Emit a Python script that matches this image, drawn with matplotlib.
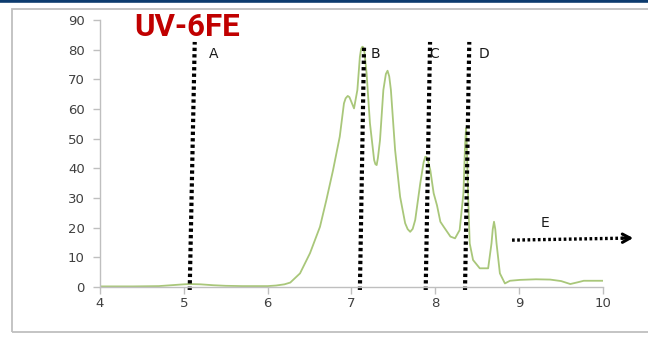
import matplotlib
matplotlib.use("Agg")
import matplotlib.pyplot as plt
from matplotlib.patches import Rectangle
from matplotlib.lines import Line2D

# ---- data ----
time_x = [4.00, 4.40, 4.70, 4.85, 5.00, 5.07, 5.20, 5.35, 5.50, 5.70, 6.00, 6.10, 6.20,
          6.27, 6.386, 6.505, 6.624, 6.70, 6.78, 6.86, 6.91, 6.93, 6.955, 6.975, 6.99,
          7.03, 7.07, 7.10, 7.115, 7.13, 7.14, 7.155, 7.18, 7.22, 7.27, 7.285, 7.30,
          7.315, 7.34, 7.38, 7.41, 7.43, 7.45, 7.47, 7.52, 7.58, 7.64, 7.67, 7.70, 7.73,
          7.76, 7.82, 7.86, 7.88, 7.895, 7.91, 7.94, 7.98, 8.02, 8.06, 8.10, 8.18, 8.235,
          8.29, 8.335, 8.355, 8.366, 8.375, 8.39, 8.41, 8.45, 8.53, 8.63, 8.67, 8.685,
          8.70, 8.715, 8.73, 8.77, 8.83, 8.89, 9.01, 9.20, 9.37, 9.50, 9.61, 9.70, 9.77,
          9.90, 10.00]
signal_y = [0.2, 0.2, 0.3, 0.6, 0.9, 1.0, 0.9, 0.6, 0.4, 0.3, 0.3, 0.5, 0.9,
            1.5, 4.6, 11.4, 20.3, 29.3, 39.4, 50.7, 61.9, 63.6, 64.4, 64.0, 63.0,
            60.2, 66.4, 77.6, 80.3, 81.0, 80.8, 79.0, 72.0, 55.2, 42.8, 41.4, 41.1,
            43.5, 49.5, 66.4, 71.8, 72.9, 71.0, 66.4, 46.2, 30.4, 21.5, 19.5, 18.6, 19.6,
            22.6, 34.9, 42.0, 43.9, 43.8, 42.8, 39.4, 31.6, 27.5, 22.0, 20.3, 17.0, 16.4,
            19.2, 31.6, 48.0, 53.5, 48.0, 31.6, 14.7, 9.1, 6.3, 6.3, 14.7, 19.5,
            22.0, 19.5, 14.7, 4.6, 1.2, 2.1, 2.4, 2.6, 2.5, 2.0, 1.0, 1.6, 2.1,
            2.1, 2.1]

marker_labels = ["A", "B", "C", "D"]
marker_bottom_x = [5.07, 7.10, 7.885, 8.354]
marker_top_x = [5.13, 7.15, 7.937, 8.405]
marker_top_y = [82.6, 81.6, 82.6, 82.6]
label_x = [5.35, 7.28, 7.99, 8.58]
label_y = [78.5, 78.5, 78.5, 78.5]

arrow_x = [8.915, 10.33]
arrow_y = [15.8, 16.5]
arrow_label = "E"

x_ticks = [4, 5, 6, 7, 8, 9, 10]
y_ticks = [0, 10, 20, 30, 40, 50, 60, 70, 80, 90]
title_text = "UV-6FE"

W, H = 648, 337
fig = plt.figure(figsize=(W / 100, H / 100), dpi=100)
fig.patch.set_facecolor("white")

# outer frame and top band
fig.add_artist(Rectangle((12 / W, (H - 332) / H), 1.2, (332 - 9) / H,
                         transform=fig.transFigure, facecolor="none",
                         edgecolor="#bfbfbf", linewidth=1.3))
fig.add_artist(Line2D([0, 1], [1 - 1.2 / H, 1 - 1.2 / H], transform=fig.transFigure,
                      color="#0d3b6e", linewidth=2.6))

ax = fig.add_axes([100 / W, (H - 287) / H, (603 - 100) / W, (287 - 20) / H])
ax.set_xlim(4, 10)
ax.set_ylim(0, 90)
ax.plot(time_x, signal_y, color="#a9c77a", linewidth=1.3, solid_joinstyle="round")

dot_style = (0, (0.8, 0.75))
for bx, tx, ty in zip(marker_bottom_x, marker_top_x, marker_top_y):
    ax.plot([bx, tx], [-1.0, ty], color="black", linewidth=3.0,
            linestyle=dot_style, dash_capstyle="butt", clip_on=False)
for lab, lx, ly in zip(marker_labels, label_x, label_y):
    ax.text(lx, ly, lab, fontsize=10, color="#1a1a1a", ha="center", va="center")

# E arrow: dotted shaft and open chevron head
ax.plot(arrow_x, arrow_y, color="black", linewidth=2.4, linestyle=dot_style,
        dash_capstyle="butt", clip_on=False)
ax.annotate("", xy=(arrow_x[1] + 0.03, arrow_y[1]), xytext=(arrow_x[1] - 0.1, arrow_y[1] - 0.05),
            annotation_clip=False,
            arrowprops=dict(arrowstyle="->,head_length=0.55,head_width=0.3", color="black",
                            lw=2.2, shrinkA=0, shrinkB=0))
ax.text(9.31, 21.6, arrow_label, fontsize=10, color="#1a1a1a", ha="center", va="center")

ax.text(187.5 / W, (H - 26.5) / H, title_text, transform=fig.transFigure,
        fontsize=22.5, fontweight="bold", color="#c00000", ha="center", va="center",
        family=["Roboto", "DejaVu Sans"])

for s in ["top", "right"]:
    ax.spines[s].set_visible(False)
for s in ["left", "bottom"]:
    ax.spines[s].set_color("#bfbfbf")
    ax.spines[s].set_linewidth(1.0)
ax.set_xticks(x_ticks)
ax.set_yticks(y_ticks)
ax.tick_params(axis="both", colors="#bfbfbf", labelcolor="#404040", labelsize=9.5,
               length=5, width=1.0, direction="out")
ax.tick_params(axis="y", pad=6)
ax.tick_params(axis="x", pad=2)
ax.patch.set_alpha(0)

fig.savefig("out.png", dpi=100)
